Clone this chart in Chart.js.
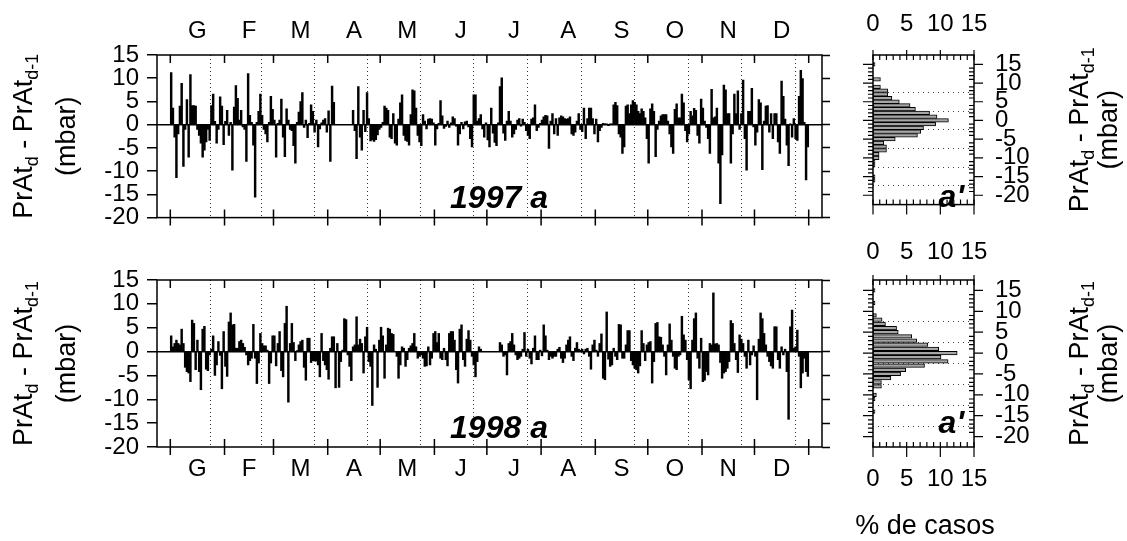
<!DOCTYPE html>
<html>
<head>
<meta charset="utf-8">
<script src="https://cdn.jsdelivr.net/npm/chart.js@4.4.1/dist/chart.umd.min.js"></script>
<style>
  html, body { margin: 0; padding: 0; background: #fff; }
  #wrap { position: relative; width: 1127px; height: 541px; overflow: hidden; }
  .box { position: absolute; }
</style>
</head>
<body>
<div id="wrap">
  <div class="box" style="left:0;top:0;width:840px;height:240px"><canvas id="c97"></canvas></div>
  <div class="box" style="left:0;top:240px;width:840px;height:301px"><canvas id="c98"></canvas></div>
  <div class="box" style="left:840px;top:0;width:287px;height:240px"><canvas id="h97"></canvas></div>
  <div class="box" style="left:840px;top:240px;width:287px;height:301px"><canvas id="h98"></canvas></div>
</div>
<script>
// month letters (catalan initials) and month lengths
const monthLabels = ['G', 'F', 'M', 'A', 'M', 'J', 'J', 'A', 'S', 'O', 'N', 'D'];
const monthDays = [31, 28, 31, 30, 31, 30, 31, 31, 30, 31, 30, 31];
const yTicks = [-20, -15, -10, -5, 0, 5, 10, 15];

// daily change PrAt(d) - PrAt(d-1), mbar, one line per month
const pr1997 = [
  11.2, 3.6, -2.7, -11.4, -2, 4, 8.9, -9, -1, 5.4, -7, 10.8, 4.1, 4.1, 4, -1, -2.3, -4, -7, -5.5, -3.7, -1, -3.4, 4.1, 6.6, 0.7, -4, -1, 6, 4, -4.3,
  0.7, 3.1, -2.3, 0.5, -9.8, 3.8, 8.4, 5.7, 1, 3.1, -0.5, -1, -7.9, 11, 2, 0.5, -4.4, -15.6, 0.5, 2.9, 6.6, 2, -1, -2, -3.7, 0.5, 6.1, 3.3,
  1, -7, 0.3, 1, 5.5, -2.7, -6.9, 3.4, 1, -1, -1.3, -4.5, -8.3, 0.5, 2.7, 5, 6.9, -0.6, 1, -2.8, 0.3, 4.3, 2.9, -1.6, 1, -4.8, -0.9, 0.4, 1, 1.3, -1.6,
  3, -7.9, 8.3, 4.8, null, null, null, null, null, null, null, null, null, null, 3.1, -1.3, -7.3, 8.2, -2.7, -5.5, 3.1, -1.5, 6.9, 1.3, -3.5, -3.3, -3.6, -3.2, -2.2, -1,
  -0.6, 0.5, 4, 3.6, 3.1, -2.7, -3, 2.4, -4, -4.4, 1.2, 4.7, 6.4, -2.3, -3.4, -3.6, -4.4, 2.2, 7.5, 7.3, 3.6, -2.3, -3.7, -4.5, 2.2, 0.8, -0.9, 1.2, 1.3, 1.2, 0.4,
  -4.4, -0.9, 0.3, 5.2, 1.9, -0.8, -0.4, 0.8, -0.6, 0.4, 1.7, 1.3, -0.3, -4.4, -2, 0.5, -0.9, 0.6, 0.8, -0.5, -3, -4.8, 6.4, 6.4, 0.8, 1.3, 2.2, -0.9, -2.7, 0.4,
  -3.3, -4.8, 3.6, -1.8, -3.8, -4.5, 0.4, 8.2, 10.1, -1.8, -3.4, 0.8, 2.9, 0.8, -2.7, -2, -1, 1, 1.3, -0.3, 1.2, 0.5, -1.3, -2.3, -3, 1.2, 1.5, 4.3, -1.3, -0.6, 0.3,
  1, 1.7, 2, 1.9, -5.1, 0.8, 2.4, -2, 1.3, -2.3, 1.5, 1.9, 1.7, 1.3, 1.2, 1.3, 1.7, -2, -2.3, -1.6, 0.8, 2.4, -1, -1.5, 3.6, -3, 1.3, 3.6, 3.6, 1.3, -2,
  1.2, -3.7, -1.3, -0.6, 0.3, 0.2, 0.2, -0.2, 0.1, 0.2, 4.3, 4.8, 4.1, -2, -2.7, -6.2, -4.8, 4, 4.3, 2.4, 4.3, 5.2, 4.8, 4.3, 2.9, 2.4, 3.4, 2.9, 1.5, -3,
  -8.3, 3.4, 4.5, 2.9, -6.9, -1, 0.8, 1.9, 2.2, 2.2, 2.2, 0.8, -2, -4.8, -6.2, 3.3, 4.5, 1.5, 1.5, 6.6, 4.7, -1.3, -3.7, -2, 2.9, 1.9, 3.5, 3.1, -2.3, -4, 5.5,
  3.6, 0.8, -0.6, -3, -6.2, 7.6, 1.5, 1.7, 3.6, -8.3, -17, -6.5, 8.5, 7.5, 2.4, 2.4, -8.3, -2, 6.6, 2.4, 7.3, -1, 2.4, 9.6, -3, -9.8, 2.9, 2.9, 7.8, -0.5,
  -4.4, -1.6, 5.4, 4.7, -9.7, 0.8, 4, 4.1, -1.6, 2.4, -3, 2.4, 2.4, -3.7, -6.2, 9.4, 6.1, 1.2, -4.4, -8.8, 0.2, -2.7, 1.3, -3, -3.4, 6.1, 11.7, 9.9, 0.5, -11.9, -4.8
];

const pr1998 = [
  3.3, 1, 1.7, 2.4, 1.7, 1.4, 4.7, 1.7, -3.3, -4.2, -4.5, -6.3, 6.6, 5.9, -3.8, 2.4, -4.2, -8, 4.7, 5.3, -3.7, -4, -0.7, 0.5, 3.3, -5, -2.8, 2.1, -0.8, -7.8, 4.2,
  -3.1, -5.2, 6.2, 8.1, 5.6, 5.7, 0.7, 0.7, 2.1, 2.4, 1.7, 0.9, -0.7, -2.8, -1.9, -1.4, 5.7, -1.4, -6.7, -2.4, 3.8, 1.7, 1.2, 1.2, 0.3, -6.7, -2.4, 3.3,
  3.3, -3, 1.7, 4.2, -4, -5.3, 5.9, 9.5, -10.6, 1.7, 5.9, 1.9, -1.9, 0.2, 1.4, 2.1, 2.4, -3.3, -6, 2.8, 2.8, -2.3, -1.9, -2, -2, -2.8, -5.3, 3.8, -1.9, -2.8, -3.8,
  -5.8, 0.7, 3.1, 3.1, -7.6, 1.7, -7.5, -2.1, 0.3, 6.9, 6.7, -0.7, -3.1, -6.1, 1, 1.4, 7.3, 1.4, 2.6, 1.7, -4.5, 3.1, 5.1, -2.1, -3.1, -11.3, 1.4, 0.5, -7.5, 2.4,
  5.1, 3.3, -5.6, 1.4, 4.9, 4.7, 3.8, 3.6, 0, -1, -5.6, -2.8, 1, 0.7, -3.1, -1.7, 0.7, 1.2, 1.7, 3.8, 1, -1.4, -1, -0.7, -1.4, -3.1, -3, 1, -2.8, -1.4, 3.8,
  4.2, 1.9, 3.8, -1.4, -1.7, 0.7, -1.7, -3, 3.8, 4.2, 4.2, 2.4, -3.8, -6.6, 4.7, 5.6, -1.7, -3.1, 2.6, 4.4, 2.4, -1, -2.8, -5.3, -2.1, 1, 0.5, null, null, null,
  null, null, null, null, null, null, null, 1.9, 1.4, -1, -0.7, -4.9, 1.7, 2.1, 3.8, 1.4, -0.7, -1.7, -1.4, -1, 0.5, 4, -1, 0.5, -1.4, -2.6, 0.7, 3.3, -1.7, -1.7, 0.3,
  -0.9, 5.6, 3.3, 0.3, -1.7, -1, -1.4, -1, -1, 0.5, 0.9, -1.4, -2.3, -1.4, 1.4, 2.4, 3.1, -1, -1.9, 0.7, 1.9, 0.5, 0.3, 0.5, -0.5, 0.5, 0.7, -1, -3.7, 1.4, 2.4,
  0.3, -1, 1.7, 3.7, -5.6, -5.9, 8.3, -1.6, -3.1, -2.8, 0.7, -1, -1.7, 5.7, 5.6, -1.4, -1.4, 1.4, 4.4, 4.4, -1.9, -2.8, -3.5, -3.8, -4.5, -3, 4.4, 1.7, -1.9, 1.4,
  1.9, 2.1, -6.6, -2.1, 5.9, 6.1, 3.1, 3, 1.4, -1, -4.9, 1.4, 5.8, 2.4, -1, -3.5, -3.8, -1, -0.7, 7.4, 3.5, 2.4, -1.7, -5.9, -7.8, 2.4, 6.9, 8.1, -1.4, -3.5, 2.8,
  -6.3, -6, -4.2, -4.9, 1.7, 1.4, 12.3, 1.6, 1.7, 1.4, -2.3, -5.6, -4.5, -4.2, -3.5, -2.1, 6.5, 5.9, 1.7, -1.7, -4.4, 3.5, 2.6, 1.7, -1, -3.5, 2.4, -2.8, -0.7, 1.2,
  -1, -10.1, 2.6, 8.1, 6.9, 3.8, 1.4, -1, -2.1, -3, -3.5, 5.2, 5.2, -1.7, -3.5, 1, -0.7, 0.5, -4.2, -14.2, 5.2, 8.7, 0.7, 1, 4.5, -1, -7.6, -4.5, -1.4, -4.2, -5.2
];

// histogram classes (mbar, centred) and % of cases
const histBins = [-20, -19, -18, -17, -16, -15, -14, -13, -12, -11, -10, -9, -8, -7, -6, -5, -4, -3, -2, -1,
  0, 1, 2, 3, 4, 5, 6, 7, 8, 9, 10, 11, 12, 13, 14, 15];
const hist1997 = [0, 0, 0, 0, 0.3, 0.3, 0, 0, 0.3, 0.3, 0.9, 0.9, 2, 2, 1.6, 3.3, 6.6, 7.1, 7.5, 9.3,
  11.2, 9.5, 8.4, 6.3, 5.5, 3.9, 2.8, 2.2, 2.2, 1.1, 0, 1.1, 0, 0, 0, 0.3];
const hist1998 = [0, 0, 0, 0, 0, 0, 0.3, 0, 0, 0.3, 0.5, 0, 1.25, 1.25, 2.65, 4.1, 4.85, 7.65, 11.15, 10.1,
  12.5, 9.75, 8.15, 6.5, 5.75, 3.75, 3.5, 1.85, 1.35, 0.5, 0, 0, 0.3, 0, 0, 0.3];

const FONT = '"Liberation Sans", Arial, Helvetica, sans-serif';
Chart.defaults.font.family = FONT;
Chart.defaults.color = '#000';

const bounds = [0];
monthDays.forEach(n => bounds.push(bounds[bounds.length - 1] + n));
const centers = monthDays.map((n, i) => bounds[i] + n / 2);
const boundSet = new Set(bounds);
const monthTickVals = bounds.concat(centers).sort((a, b) => a - b);

function drawYTitle(ctx, x1, x2, cy, size) {
  const parts = [['PrAt', false], ['d', true], [' - PrAt', false], ['d-1', true]];
  const big = size + 'px ' + FONT;
  const small = Math.round(size * 0.68) + 'px ' + FONT;
  let w = 0;
  parts.forEach(p => { ctx.font = p[1] ? small : big; w += ctx.measureText(p[0]).width; });
  ctx.save();
  ctx.fillStyle = '#000';
  ctx.textBaseline = 'middle';
  ctx.translate(x1, cy);
  ctx.rotate(-Math.PI / 2);
  let x = -w / 2;
  parts.forEach(p => {
    ctx.font = p[1] ? small : big;
    ctx.fillText(p[0], x, p[1] ? size * 0.28 : 0);
    x += ctx.measureText(p[0]).width;
  });
  ctx.restore();
  ctx.save();
  ctx.fillStyle = '#000';
  ctx.font = big;
  ctx.textAlign = 'center';
  ctx.textBaseline = 'middle';
  ctx.translate(x2, cy);
  ctx.rotate(-Math.PI / 2);
  ctx.fillText('(mbar)', 0, 0);
  ctx.restore();
}

const dailyFrame = {
  id: 'dailyFrame',
  afterDraw(chart, args, o) {
    const {ctx, chartArea: a} = chart;
    const xs = chart.scales.x;
    ctx.save();
    ctx.strokeStyle = '#000';
    ctx.lineWidth = 1.5;
    ctx.strokeRect(a.left, a.top, a.right - a.left, a.bottom - a.top);
    bounds.forEach(b => {
      const px = xs.getPixelForValue(b);
      ctx.beginPath();
      ctx.moveTo(px, a.bottom - 8);
      ctx.lineTo(px, a.bottom + 8);
      ctx.moveTo(px, a.top);
      ctx.lineTo(px, a.top + 8);
      ctx.stroke();
    });
    ctx.fillStyle = '#000';
    ctx.font = 'italic bold 32px ' + FONT;
    ctx.textAlign = 'center';
    ctx.textBaseline = 'alphabetic';
    ctx.fillText(o.tag, 499, o.tagY);
    ctx.restore();
    drawYTitle(ctx, 25, 68, (a.top + a.bottom) / 2, 27);
  }
};

function dailyChart(id, values, cfg) {
  const xPos = cfg.labelsTop ? 'top' : 'bottom';
  return new Chart(document.getElementById(id), {
    type: 'bar',
    data: {
      datasets: [{
        data: values.map((v, i) => ({x: i + 0.5, y: v})),
        backgroundColor: '#000',
        borderWidth: 0,
        barThickness: 1.8
      }]
    },
    plugins: [dailyFrame],
    options: {
      responsive: true,
      maintainAspectRatio: false,
      animation: false,
      devicePixelRatio: 1,
      events: [],
      layout: {padding: cfg.padding},
      plugins: {legend: {display: false}, tooltip: {enabled: false}, dailyFrame: {tag: cfg.tag, tagY: cfg.tagY}},
      scales: {
        x: {
          type: 'linear',
          position: xPos,
          min: 0,
          max: 365,
          afterBuildTicks: s => { s.ticks = monthTickVals.map(v => ({value: v})); },
          afterFit: s => { s.height = cfg.xHeight; },
          ticks: {
            autoSkip: false, maxRotation: 0, minRotation: 0, padding: cfg.xPad,
            font: {size: 24},
            callback: v => boundSet.has(v) ? '' : monthLabels[centers.indexOf(v)]
          },
          grid: {
            drawOnChartArea: true,
            drawTicks: false,
            lineWidth: 1,
            color: c => (c.tick && boundSet.has(c.tick.value)) ? '#333' : 'rgba(0,0,0,0)'
          },
          border: {display: false, dash: [1, 3]}
        },
        y: {
          position: 'left',
          min: -20,
          max: 15,
          afterBuildTicks: s => { s.ticks = yTicks.map(v => ({value: v})); },
          afterFit: s => { s.width = 157; },
          ticks: {autoSkip: false, padding: 8, font: {size: 24}},
          grid: {
            drawOnChartArea: true,
            tickLength: 10,
            tickColor: '#000',
            tickWidth: 1.5,
            lineWidth: 1.5,
            color: c => (c.tick && c.tick.value === 0) ? '#000' : 'rgba(0,0,0,0)'
          },
          border: {display: false}
        },
        yr: {
          position: 'right',
          min: -20,
          max: 15,
          afterBuildTicks: s => { s.ticks = yTicks.map(v => ({value: v})); },
          afterFit: s => { s.width = 18; },
          ticks: {display: false, autoSkip: false},
          grid: {drawOnChartArea: false, tickLength: 8, tickColor: '#000', tickWidth: 1.5},
          border: {display: false}
        }
      }
    }
  });
}

const histFrame = {
  id: 'histFrame',
  afterDraw(chart, args, o) {
    const {ctx, chartArea: a} = chart;
    const xs = chart.scales.x, ys = chart.scales.y;
    ctx.save();
    ctx.strokeStyle = '#000';
    ctx.lineWidth = 1.5;
    ctx.strokeRect(a.left, a.top, a.right - a.left, a.bottom - a.top);
    ctx.lineWidth = 1.2;
    ctx.beginPath();
    for (let v = -20; v <= 15; v++) {
      const py = ys.getPixelForValue(v);
      const major = v % 5 === 0;
      ctx.moveTo(a.left - (major ? 10 : 5), py);
      ctx.lineTo(a.left, py);
      if (major) { ctx.moveTo(a.right, py); ctx.lineTo(a.right + 9, py); }
      else { ctx.moveTo(a.right - 5, py); ctx.lineTo(a.right, py); }
    }
    for (let v = 0; v <= 15; v++) {
      const px = xs.getPixelForValue(v);
      const major = v % 5 === 0;
      ctx.moveTo(px, a.top - (major ? 5 : 0));
      ctx.lineTo(px, a.top + 5);
      ctx.moveTo(px, a.bottom - 5);
      ctx.lineTo(px, a.bottom + (major ? 10 : 0));
    }
    ctx.stroke();
    ctx.fillStyle = '#000';
    ctx.font = 'italic bold 32px ' + FONT;
    ctx.textAlign = 'right';
    ctx.textBaseline = 'alphabetic';
    ctx.fillText("a'", a.right - 10, o.tagY);
    if (o.casos) {
      ctx.font = '27px ' + FONT;
      ctx.textAlign = 'center';
      ctx.textBaseline = 'middle';
      ctx.fillText('% de casos', 85, o.casosY);
    }
    ctx.restore();
    drawYTitle(ctx, 241, 270, (a.top + a.bottom) / 2, 27);
  }
};

function histChart(id, pct, cfg) {
  return new Chart(document.getElementById(id), {
    type: 'bar',
    data: {
      datasets: [{
        data: histBins.map((b, i) => ({y: b, x: pct[i] || null})),
        backgroundColor: '#a6a6a6',
        borderColor: '#000',
        borderWidth: 1,
        borderSkipped: false,
        barThickness: 3.6
      }]
    },
    plugins: [histFrame],
    options: {
      indexAxis: 'y',
      responsive: true,
      maintainAspectRatio: false,
      animation: false,
      devicePixelRatio: 1,
      events: [],
      layout: {padding: 0},
      plugins: {legend: {display: false}, tooltip: {enabled: false}, histFrame: cfg.frame},
      scales: {
        x: {
          type: 'linear',
          position: 'top',
          min: 0,
          max: 15,
          ticks: {stepSize: 5, autoSkip: false, padding: cfg.topPad, font: {size: 24}, maxRotation: 0},
          afterFit: s => { s.height = cfg.topH; },
          grid: {display: false, drawTicks: false},
          border: {display: false}
        },
        x2: {
          type: 'linear',
          position: 'bottom',
          min: 0,
          max: 15,
          ticks: {stepSize: 5, autoSkip: false, padding: cfg.botPad, font: {size: 24}, display: cfg.botLabels, maxRotation: 0},
          afterFit: s => { s.height = cfg.botH; },
          grid: {display: false, drawTicks: false},
          border: {display: false}
        },
        y: {
          type: 'linear',
          position: 'left',
          min: -20,
          max: 15,
          afterBuildTicks: s => { s.ticks = yTicks.map(v => ({value: v})); },
          afterFit: s => { s.width = 33; },
          ticks: {display: false, autoSkip: false},
          grid: {
            drawTicks: false,
            lineWidth: 1,
            color: c => (c.tick && c.tick.value > -20 && c.tick.value < 15) ? '#444' : 'rgba(0,0,0,0)'
          },
          border: {display: false, dash: [1, 4]}
        },
        yr: {
          type: 'linear',
          position: 'right',
          min: -20,
          max: 15,
          afterBuildTicks: s => { s.ticks = yTicks.map(v => ({value: v})); },
          afterFit: s => { s.width = 153; },
          ticks: {autoSkip: false, padding: 21, font: {size: 24}},
          grid: {drawOnChartArea: false, drawTicks: false},
          border: {display: false}
        }
      }
    }
  });
}

dailyChart('c97', pr1997, {labelsTop: true, xHeight: 55, xPad: 9, padding: {bottom: 18}, tag: '1997 a', tagY: 208});
dailyChart('c98', pr1998, {labelsTop: false, xHeight: 94, xPad: 8, padding: {top: 40}, tag: '1998 a', tagY: 198});
histChart('h97', hist1997, {topH: 55, topPad: 16, botH: 18, botPad: 0, botLabels: false, frame: {tagY: 207}});
histChart('h98', hist1998, {topH: 40, topPad: 13, botH: 94, botPad: 18, botLabels: true, frame: {tagY: 193, casos: true, casosY: 287}});
</script>
</body>
</html>
